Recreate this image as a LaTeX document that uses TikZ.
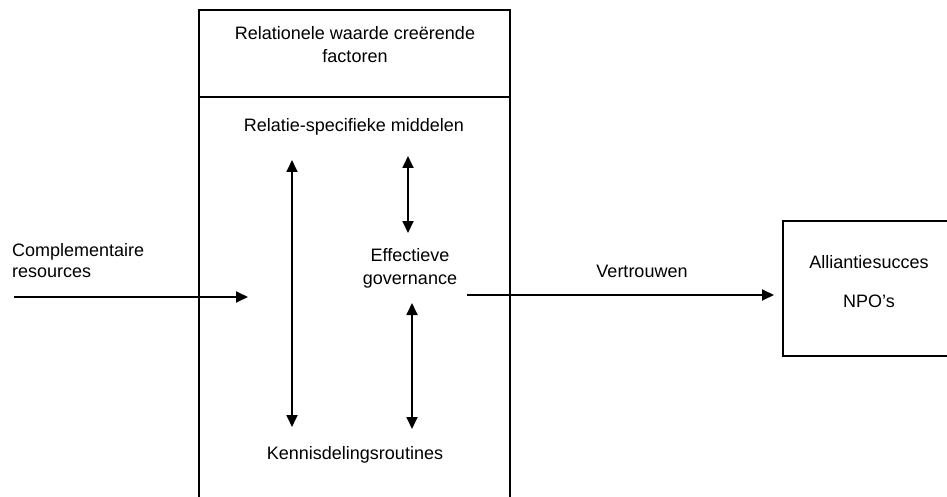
\documentclass[tikz,border=0pt]{standalone}
\usepackage{fontspec}
\setmainfont{Liberation Sans}
\usetikzlibrary{arrows.meta}
\begin{document}
\begin{tikzpicture}[x=1pt,y=-1pt,
  boxline/.style={draw=black,line width=2.8pt},
  conn/.style={line width=1.8pt,-{Triangle[length=12pt,width=11pt]}},
  dconn/.style={line width=1.8pt,{Triangle[length=12pt,width=11pt]}-{Triangle[length=12pt,width=11pt]}},
  lbl/.style={font=\fontsize{18}{23}\selectfont,inner sep=0pt,align=center},
  lbll/.style={font=\fontsize{18}{21}\selectfont,inner sep=0pt,align=left}]
\useasboundingbox (0,0) rectangle (947,497);
\clip (0,0) rectangle (947,497);
% big box
\draw[boxline] (199,10) rectangle (510,520);
\draw[boxline] (199,97) -- (510,97);
% right box
\draw[boxline] (783,221) rectangle (960,356);
% texts
\node[lbl] (rel) at (355,45) {Relationele waarde creërende\\factoren};
\node[lbl] (rsm) at (354,127) {Relatie-specifieke middelen};
\node[lbl] (eg) at (410,268) {Effectieve\\governance};
\node[lbl] (kdr) at (355,455) {Kennisdelingsroutines};
\node[lbll,anchor=west] (cr) at (12,261) {Complementaire\\resources};
\node[lbl] (vt) at (642,271) {Vertrouwen};
\node[lbl] (as) at (869,262) {Alliantiesucces};
\node[lbl] (npo) at (869,301) {NPO’s};
% arrow endpoints
\coordinate (inS) at (14,297);
\coordinate (inE) at (248,297);
\coordinate (lvT) at (292,160);
\coordinate (lvB) at (292,427);
\coordinate (ruT) at (408,156);
\coordinate (ruB) at (408,233);
\coordinate (rlT) at (412,303);
\coordinate (rlB) at (412,429);
\coordinate (outS) at (467,295);
\coordinate (outE) at (774,295);
\draw[conn] (inS) -- (inE);
\draw[dconn] (lvT) -- (lvB);
\draw[dconn] (ruT) -- (ruB);
\draw[dconn] (rlT) -- (rlB);
\draw[conn] (outS) -- (outE);
\end{tikzpicture}
\end{document}
